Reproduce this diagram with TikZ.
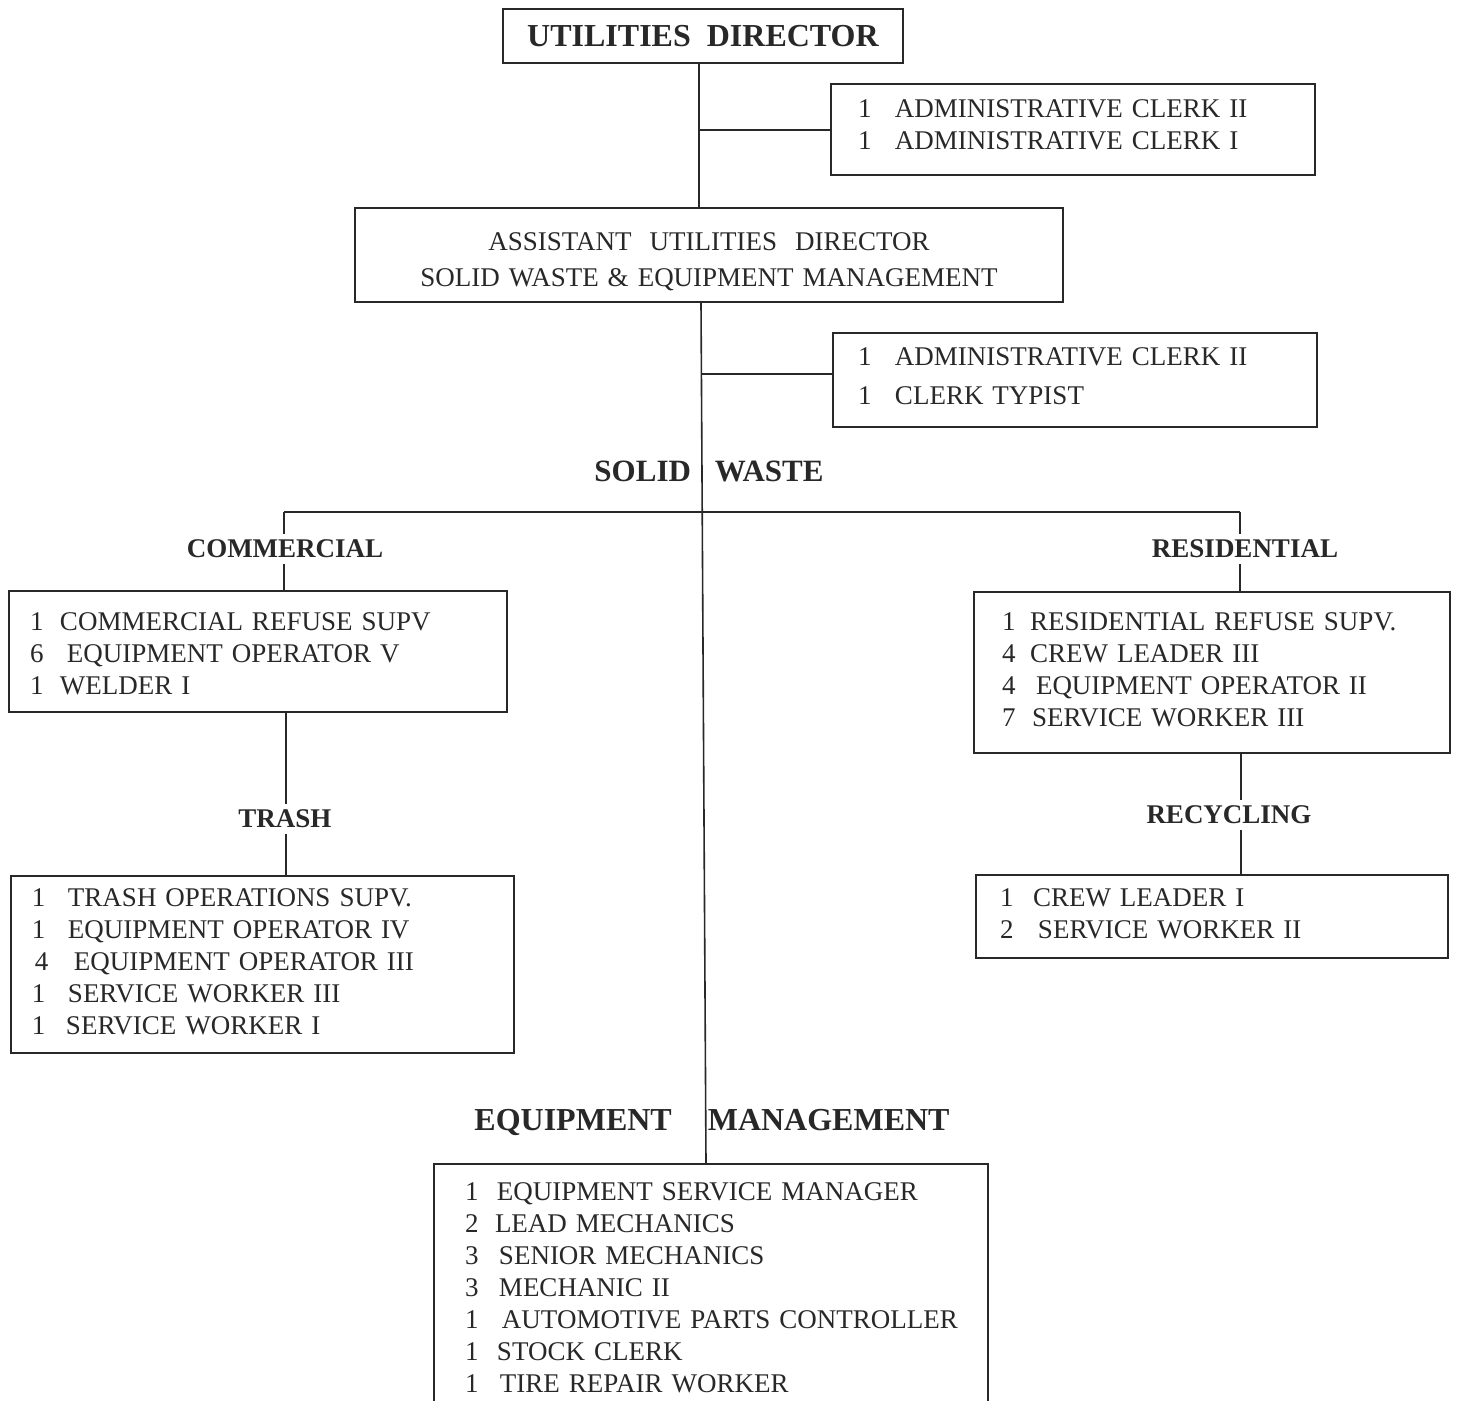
\documentclass[tikz,border=0pt]{standalone}
\usepackage{fontspec}
\setmainfont{Liberation Serif}
\newlength\colw
\newcommand\jobrow[3][\colw]{\mbox{\makebox[#1][l]{#2}#3}}
\newcommand\topgap[1]{\rule{0pt}{\dimexpr 9.1pt+#1\relax}}
\definecolor{ink}{RGB}{40,40,40}
\begin{document}
\begin{tikzpicture}[x=0.5pt,y=-0.5pt,
  every node/.style={text=ink},
  conn/.style={draw=ink,line width=0.8pt},
  boxbase/.style={draw=ink,line width=1pt,inner ysep=0pt,anchor=center,
    font=\fontsize{13.5}{16}\selectfont},
  jbox/.style n args={4}{boxbase,align=left,minimum width=#1pt,minimum height=#2pt,
    inner xsep=#3pt,text width=#4pt},
  head/.style={font=\fontsize{16}{18}\selectfont\bfseries,inner sep=0pt},
  sub/.style={font=\fontsize{13.5}{16}\selectfont\bfseries,inner xsep=0pt,inner ysep=3pt}]
\clip (0,0) rectangle (1457,1401);
\fill[white] (0,0) rectangle (1457,1401);

% top
\node[boxbase,font=\fontsize{16}{18}\selectfont\bfseries,minimum width=200pt,minimum height=27pt] (dir) at (703,36) {UTILITIES\ \ DIRECTOR};
\node[jbox={242}{45.5}{13.5}{215}] (adm1) at (1073,129.5)
  {\setlength\colw{18.5pt}\jobrow{1}{ADMINISTRATIVE CLERK II}\\\jobrow{1}{ADMINISTRATIVE CLERK I}\par\vspace{5pt}};
\node[boxbase,align=center,text width=340pt,minimum width=354pt,minimum height=47pt] (asst) at (709,255)
  {\topgap{7pt}ASSISTANT\ \ UTILITIES\ \ DIRECTOR\\[2pt]SOLID WASTE \& EQUIPMENT MANAGEMENT};
\node[jbox={242}{47}{12.5}{217}] (adm2) at (1075,380)
  {\setlength\colw{18.5pt}\jobrow{1}{ADMINISTRATIVE CLERK II}\\[3.5pt]\jobrow{1}{CLERK TYPIST}\par\vspace{4pt}};

% labels
\node[head,font=\fontsize{15.5}{18}\selectfont\bfseries] (sw) at (709,471) {SOLID\hspace{12pt}WASTE};
\node[sub] (lcom) at (285,549) {COMMERCIAL};
\node[sub] (lres) at (1245,549) {RESIDENTIAL};
\node[sub] (ltr) at (285,819) {TRASH};
\node[sub] (lrec) at (1229,815) {RECYCLING};
\node[head] (em) at (712,1122) {EQUIPMENT\hspace{18pt}MANAGEMENT};

% boxes
\node[jbox={249}{60.5}{10.5}{228}] (comm) at (258,651.5)
  {\setlength\colw{15pt}\topgap{2pt}\jobrow{1}{COMMERCIAL REFUSE SUPV}\\\jobrow[18.5pt]{6}{EQUIPMENT OPERATOR V}\\\jobrow{1}{WELDER I}};
\node[jbox={251.5}{88.5}{10.5}{230.5}] (trash) at (262.5,964.5)
  {\setlength\colw{18pt}\jobrow{1}{TRASH OPERATIONS SUPV.}\\\jobrow{1}{EQUIPMENT OPERATOR IV}\\\hspace{1.5pt}\jobrow[19.5pt]{4}{EQUIPMENT OPERATOR III}\\\jobrow{1}{SERVICE WORKER III}\\\jobrow[17pt]{1}{SERVICE WORKER I}\par\vspace{3pt}};
\node[jbox={238}{80.5}{14}{210}] (res) at (1212,672.5)
  {\setlength\colw{14pt}\jobrow{1}{RESIDENTIAL REFUSE SUPV.}\\\jobrow{4}{CREW LEADER III}\\\jobrow[17pt]{4}{EQUIPMENT OPERATOR II}\\\jobrow[15pt]{7}{SERVICE WORKER III}\par\vspace{3pt}};
\node[jbox={236}{41.5}{12}{212}] (rec) at (1212,916.5)
  {\setlength\colw{16.5pt}\jobrow{1}{CREW LEADER I}\\\jobrow[19pt]{2}{SERVICE WORKER II}\par\vspace{3pt}};
\node[jbox={277}{121.5}{15.5}{246},anchor=north] (equip) at (711,1163)
  {\setlength\colw{16pt}\topgap{2pt}\jobrow{1}{EQUIPMENT SERVICE MANAGER}\\\jobrow[15pt]{2}{LEAD MECHANICS}\\\jobrow[17pt]{3}{SENIOR MECHANICS}\\\jobrow[17pt]{3}{MECHANIC II}\\\jobrow[18.5pt]{1}{AUTOMOTIVE PARTS CONTROLLER}\\\jobrow{1}{STOCK CLERK}\\\jobrow[17.5pt]{1}{TIRE REPAIR WORKER}};

% connectors
\coordinate (t1) at (699,130);
\coordinate (t2) at (701,374);
\coordinate (t3) at (706,1120);
\coordinate (hl) at (284,512);
\coordinate (hr) at (1240,512);
\coordinate (vl) at (286,760);
\coordinate (vr) at (1241,790);
\draw[conn] (dir.south -| t1) -- (asst.north -| t1);
\draw[conn] (t1) -- (adm1.west |- t1);
\draw[conn] (asst.south -| t2) -- (equip.north -| t3);
\draw[conn] (t2) -- (adm2.west |- t2);
\draw[conn] (hl) -- (hr);
\draw[conn] (hl) -- (lcom.north -| hl);
\draw[conn] (lcom.south -| hl) -- (comm.north -| hl);
\draw[conn] (hr) -- (lres.north -| hr);
\draw[conn] (lres.south -| hr) -- (res.north -| hr);
\draw[conn] (comm.south -| vl) -- (ltr.north -| vl);
\draw[conn] (ltr.south -| vl) -- (trash.north -| vl);
\draw[conn] (res.south -| vr) -- (lrec.north -| vr);
\draw[conn] (lrec.south -| vr) -- (rec.north -| vr);
\end{tikzpicture}
\end{document}
